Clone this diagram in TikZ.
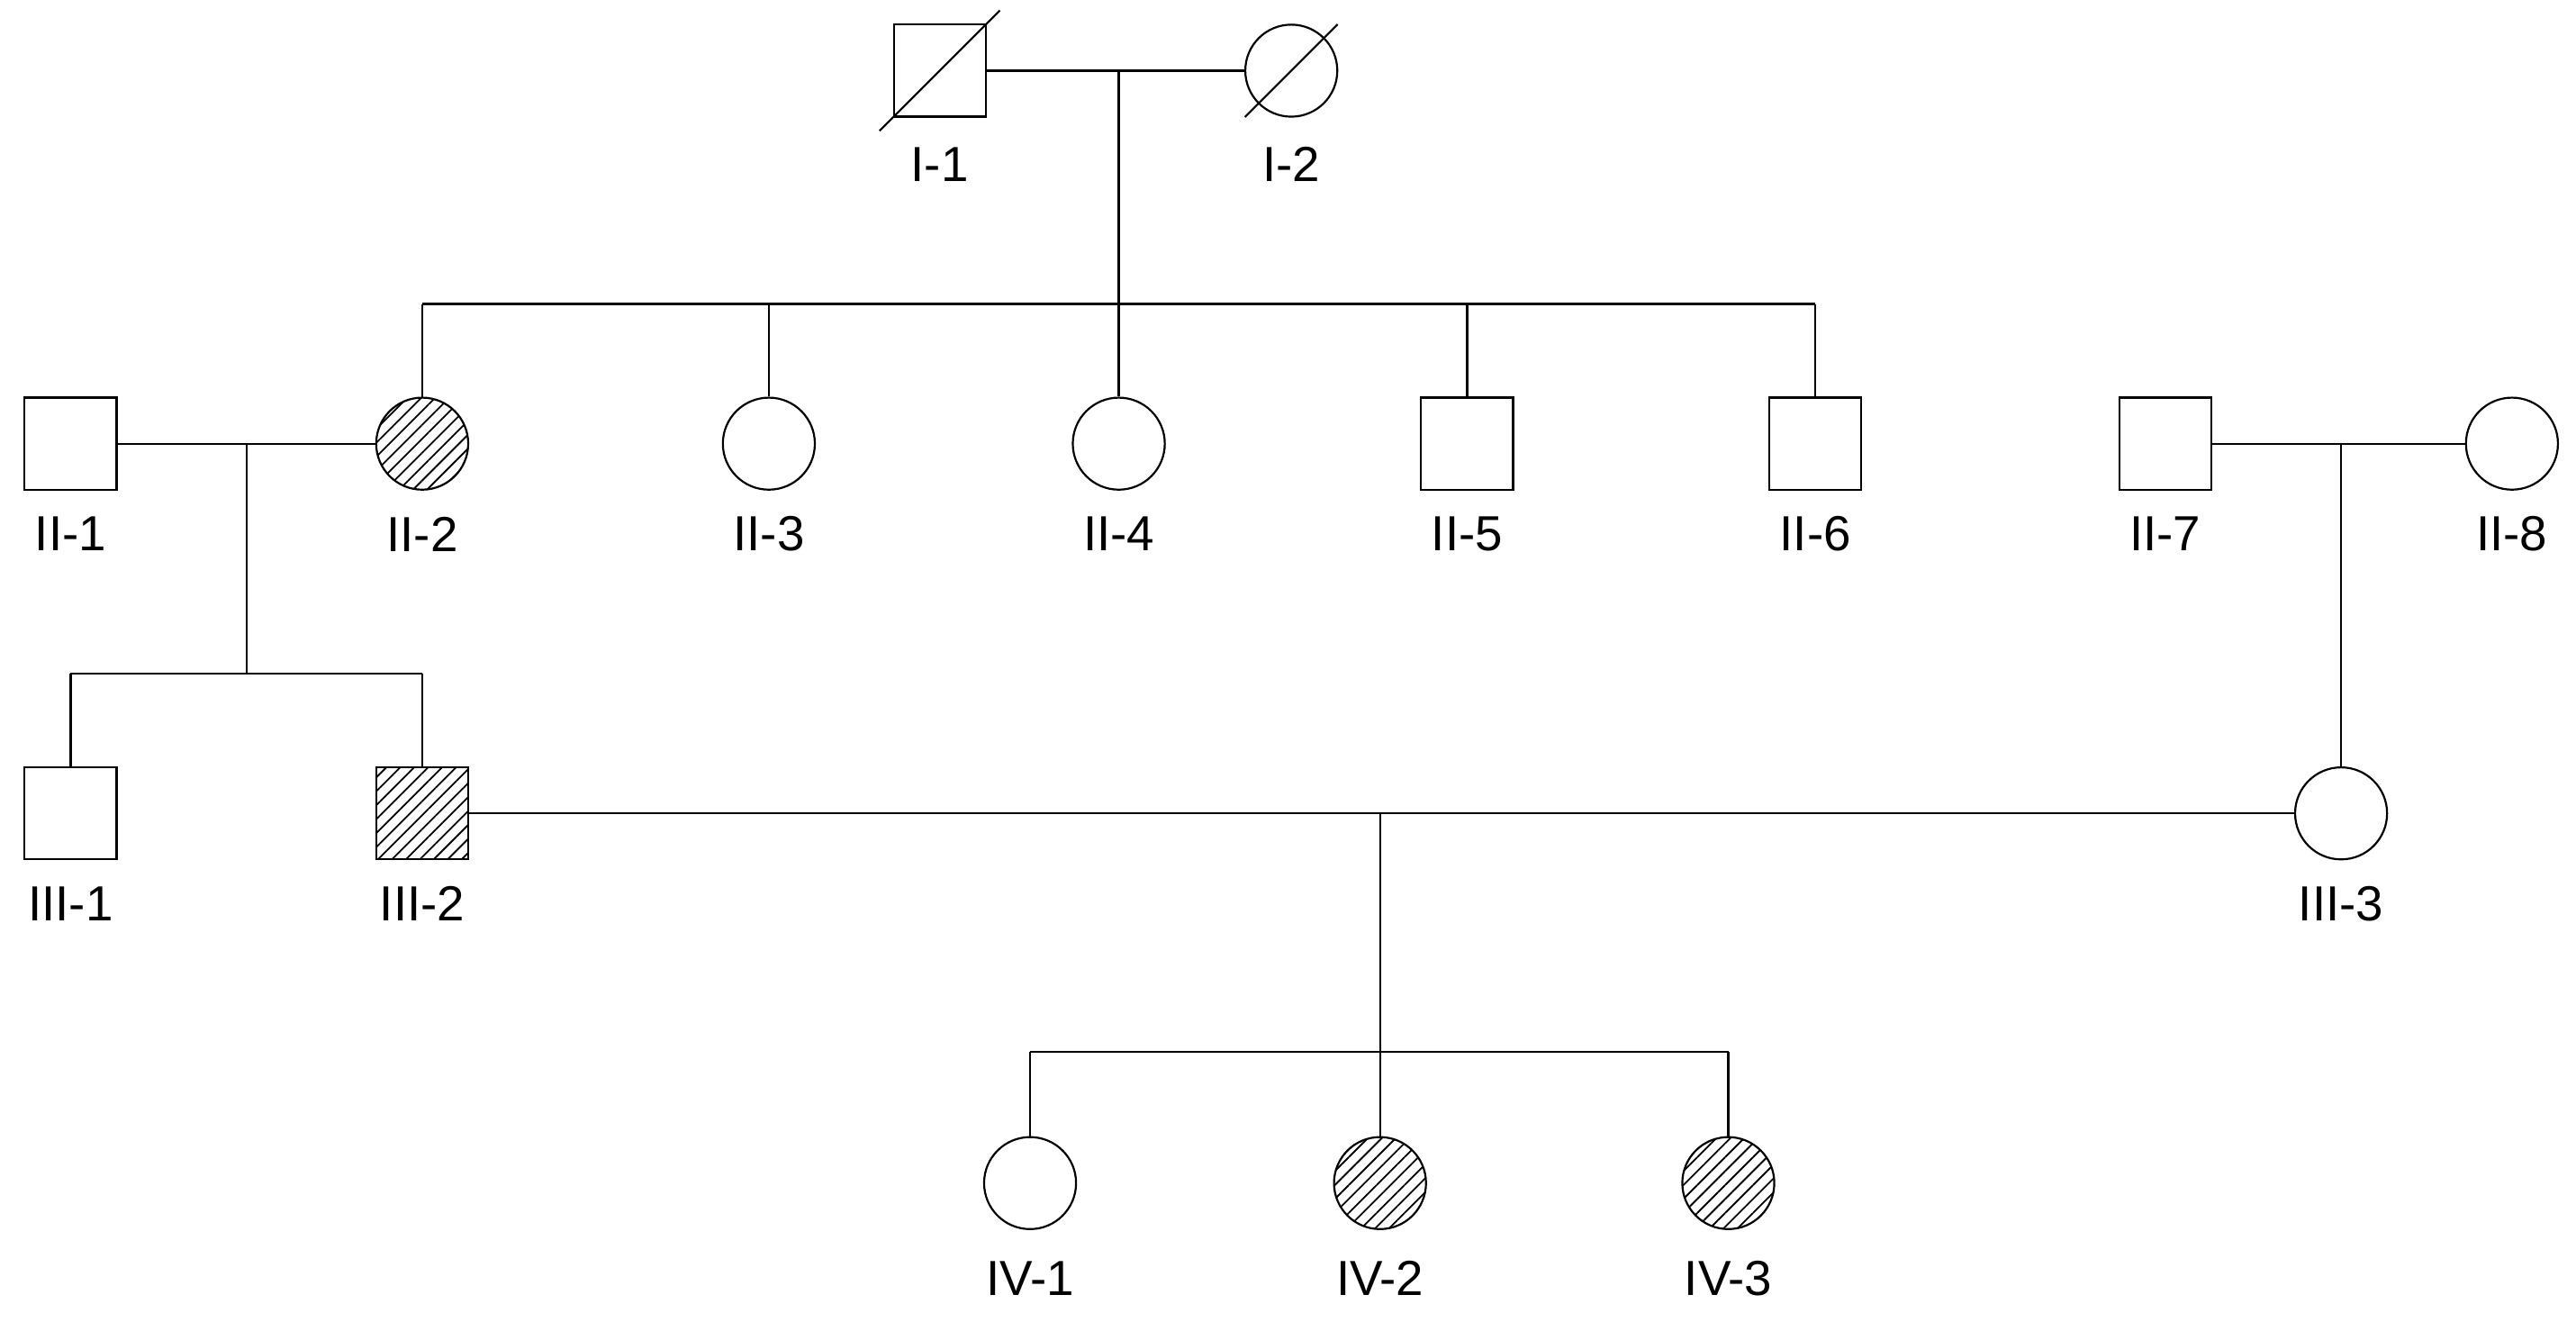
\documentclass[tikz,border=0pt]{standalone}
\usepackage{fontspec}
\setmainfont{Liberation Sans}
\usetikzlibrary{patterns.meta}
\begin{document}
\begin{tikzpicture}[x=0.5pt,y=-0.5pt,line width=0.6pt,
 m/.style={draw,rectangle,minimum size=28pt,inner sep=0pt},
 f/.style={draw,circle,minimum size=28pt,inner sep=0pt},
 aff/.style={pattern={Lines[angle=45,distance=3pt,line width=0.5pt]}},
 lab/.style={font=\fontsize{15}{15}\selectfont}]
\useasboundingbox (0,0) rectangle (1568,804);
% generation I
\node[m] (I1) at (572,43) {};
\node[f] (I2) at (786,43) {};
\draw ([shift={(-8,8)}]I1.south west) -- ([shift={(8,-8)}]I1.north east);
\draw ([shift={(-8,8)}]I2.south west) -- ([shift={(8,-8)}]I2.north east);
\node[lab] at (572,100) {I-1};
\node[lab] at (786,100) {I-2};
% generation II
\node[m] (II1) at (43,270) {};
\node[f,aff] (II2) at (257,270) {};
\node[f] (II3) at (468,270) {};
\node[f] (II4) at (681,270) {};
\node[m] (II5) at (893,270) {};
\node[m] (II6) at (1105,270) {};
\node[m] (II7) at (1318,270) {};
\node[f] (II8) at (1529,270) {};
\foreach \n/\x in {II-1/43,II-2/257,II-3/468,II-4/681,II-5/893,II-6/1105,II-7/1318,II-8/1529}
  \node[lab] at (\x,325) {\n};
% generation III
\node[m] (III1) at (43,495) {};
\node[m,aff] (III2) at (257,495) {};
\node[f] (III3) at (1425,495) {};
\node[lab] at (43,550) {III-1};
\node[lab] at (257,550) {III-2};
\node[lab] at (1425,550) {III-3};
% generation IV
\node[f] (IV1) at (627,720) {};
\node[f,aff] (IV2) at (840,720) {};
\node[f,aff] (IV3) at (1052,720) {};
\node[lab] at (627,778) {IV-1};
\node[lab] at (840,778) {IV-2};
\node[lab] at (1052,778) {IV-3};
% connectors
\coordinate (m1) at (681,43);
\coordinate (s1) at (681,185);
\draw (I1) -- (I2);
\draw (m1) -- (s1);
\draw (II2.north |- s1) -- (II6.north |- s1);
\foreach \c in {II2,II3,II4,II5,II6} \draw (\c.north |- s1) -- (\c.north);
\coordinate (m2) at (150,270);
\coordinate (s2) at (150,410);
\draw (II1) -- (II2);
\draw (m2) -- (s2);
\draw (III1.north |- s2) -- (III2.north |- s2);
\foreach \c in {III1,III2} \draw (\c.north |- s2) -- (\c.north);
\coordinate (m3) at (1425,270);
\draw (II7) -- (II8);
\draw (m3) -- (III3.north);
\coordinate (m4) at (840,495);
\coordinate (s4) at (840,640);
\draw (III2) -- (III3);
\draw (m4) -- (s4);
\draw (IV1.north |- s4) -- (IV3.north |- s4);
\foreach \c in {IV1,IV2,IV3} \draw (\c.north |- s4) -- (\c.north);
\end{tikzpicture}
\end{document}
